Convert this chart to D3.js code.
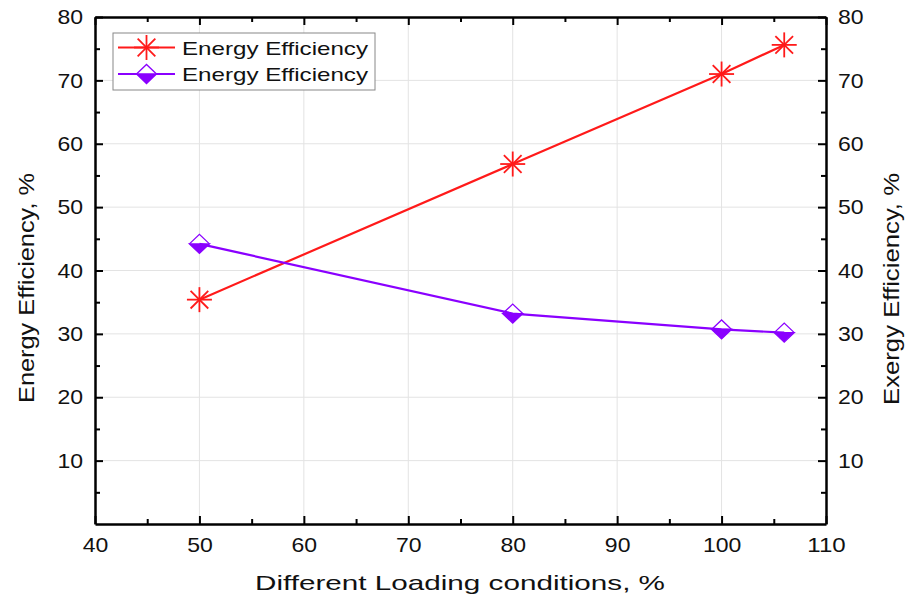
<!DOCTYPE html>
<html>
<head>
<meta charset="utf-8">
<script src="https://cdn.jsdelivr.net/npm/d3@7"></script>
<style>
  html, body { margin: 0; padding: 0; background: #fff; }
  svg { display: block; font-family: Arial, "Liberation Sans", sans-serif; }
</style>
</head>
<body>
<svg id="chart" width="909" height="599"></svg>
<script>
// Loading conditions (%) and efficiencies (%)
const loads = [50, 80, 100, 106];
const energyEff = [35.4, 56.8, 71.0, 75.6];
const exergyEff = [44.2, 33.2, 30.7, 30.2];
const seriesNames = ["Energy Efficiency", "Energy Efficiency"];
const xTicks = [40, 50, 60, 70, 80, 90, 100, 110];
const yTicks = [10, 20, 30, 40, 50, 60, 70, 80];
const xTitle = "Different Loading conditions, %";
const yTitleLeft = "Energy Efficiency, %";
const yTitleRight = "Exergy Efficiency, %";

const svg = d3.select("#chart");
const m = { left: 95, right: 826, top: 17, bottom: 524 };

const x = d3.scaleLinear().domain([40, 110]).range([m.left, m.right]);
const y = d3.scaleLinear().domain([0, 80]).range([m.bottom, m.top]);

const red = "#ff1a1a";
const purple = "#8a00ff";
const ink = "#111";

// grid
const grid = svg.append("g").attr("stroke", "#e3e3e3").attr("stroke-width", 1);
xTicks.slice(1, -1).forEach(v => grid.append("line")
  .attr("x1", x(v)).attr("x2", x(v)).attr("y1", m.top).attr("y2", m.bottom));
yTicks.slice(0, -1).forEach(v => grid.append("line")
  .attr("x1", m.left).attr("x2", m.right).attr("y1", y(v)).attr("y2", y(v)));

// axes with inward ticks
const xMinor = d3.range(45, 110, 10);
const yMinor = d3.range(5, 80, 10);

function styleAxis(g) {
  g.selectAll("path.domain").attr("stroke", "#000").attr("stroke-width", 2.5);
  g.selectAll(".tick line").attr("stroke", "#000").attr("stroke-width", 2);
  g.selectAll("text").attr("fill", ink).style("font-size", "21px")
    .style("font-family", "Arial, 'Liberation Sans', sans-serif")
    .attr("textLength", d => String(d).length * 12.8)
    .attr("lengthAdjust", "spacingAndGlyphs");
}
function minorStyle(g) {
  g.select(".domain").remove();
  g.selectAll("line").attr("stroke", "#000").attr("stroke-width", 2);
}

const axBottom = svg.append("g").attr("transform", `translate(0,${m.bottom})`)
  .call(d3.axisBottom(x).tickValues(xTicks).tickSize(-8).tickPadding(13).tickSizeOuter(0));
styleAxis(axBottom);
svg.append("g").attr("transform", `translate(0,${m.bottom})`)
  .call(d3.axisBottom(x).tickValues(xMinor).tickSize(-5).tickFormat("").tickSizeOuter(0))
  .call(minorStyle);

const axTop = svg.append("g").attr("transform", `translate(0,${m.top})`)
  .call(d3.axisTop(x).tickValues(xTicks).tickSize(-8).tickFormat("").tickSizeOuter(0));
styleAxis(axTop);
svg.append("g").attr("transform", `translate(0,${m.top})`)
  .call(d3.axisTop(x).tickValues(xMinor).tickSize(-5).tickFormat("").tickSizeOuter(0))
  .call(minorStyle);

const axLeft = svg.append("g").attr("transform", `translate(${m.left},0)`)
  .call(d3.axisLeft(y).tickValues(yTicks).tickSize(-8).tickPadding(12).tickSizeOuter(0));
styleAxis(axLeft);
svg.append("g").attr("transform", `translate(${m.left},0)`)
  .call(d3.axisLeft(y).tickValues(yMinor).tickSize(-5).tickFormat("").tickSizeOuter(0))
  .call(minorStyle);

const axRight = svg.append("g").attr("transform", `translate(${m.right},0)`)
  .call(d3.axisRight(y).tickValues(yTicks).tickSize(-8).tickPadding(12).tickSizeOuter(0));
styleAxis(axRight);
svg.append("g").attr("transform", `translate(${m.right},0)`)
  .call(d3.axisRight(y).tickValues(yMinor).tickSize(-5).tickFormat("").tickSizeOuter(0))
  .call(minorStyle);

// axis titles
svg.append("text").attr("x", 255).attr("y", 590)
  .attr("textLength", 410).attr("lengthAdjust", "spacingAndGlyphs")
  .style("font-size", "21px").attr("fill", ink).text(xTitle);
svg.append("text").attr("transform", "translate(34,403) rotate(-90)")
  .attr("textLength", 230).attr("lengthAdjust", "spacingAndGlyphs")
  .style("font-size", "22px").attr("fill", ink).text(yTitleLeft);
svg.append("text").attr("transform", "translate(899,405) rotate(-90)")
  .attr("textLength", 232).attr("lengthAdjust", "spacingAndGlyphs")
  .style("font-size", "22px").attr("fill", ink).text(yTitleRight);

// markers
function star(g, cx, cy, r) {
  const s = g.append("g").attr("stroke", red).attr("stroke-width", 1.8);
  for (let k = 0; k < 4; k++) {
    const a = k * Math.PI / 4;
    s.append("line")
      .attr("x1", cx - r * Math.cos(a)).attr("y1", cy - r * Math.sin(a))
      .attr("x2", cx + r * Math.cos(a)).attr("y2", cy + r * Math.sin(a));
  }
}
function diamond(g, cx, cy, w, h) {
  g.append("path")
    .attr("d", `M${cx - w},${cy} L${cx},${cy - h} L${cx + w},${cy}`)
    .attr("fill", "#fff").attr("stroke", purple).attr("stroke-width", 1.3);
  g.append("path")
    .attr("d", `M${cx - w},${cy} L${cx + w},${cy} L${cx},${cy + h} Z`)
    .attr("fill", purple).attr("stroke", purple).attr("stroke-width", 1.3);
}

const line = d3.line().x(d => x(d[0])).y(d => y(d[1]));
const redPts = loads.map((v, i) => [v, energyEff[i]]);
const purPts = loads.map((v, i) => [v, exergyEff[i]]);

svg.append("path").datum(redPts).attr("d", line)
  .attr("fill", "none").attr("stroke", red).attr("stroke-width", 2.2);
const markers = svg.append("g");
redPts.forEach(p => star(markers, x(p[0]), y(p[1]), 12.5));

svg.append("path").datum(purPts).attr("d", line)
  .attr("fill", "none").attr("stroke", purple).attr("stroke-width", 2.2);
purPts.forEach(p => diamond(markers, x(p[0]), y(p[1]), 10, 9.5));

// legend
const lg = svg.append("g");
lg.append("rect").attr("x", 113).attr("y", 33).attr("width", 262).attr("height", 57)
  .attr("fill", "#fff").attr("stroke", "#888").attr("stroke-width", 1);
const rows = [47.5, 74];
lg.append("line").attr("x1", 118).attr("x2", 175).attr("y1", rows[0]).attr("y2", rows[0])
  .attr("stroke", red).attr("stroke-width", 2.2);
star(lg, 146.5, rows[0], 12.5);
lg.append("line").attr("x1", 118).attr("x2", 175).attr("y1", rows[1]).attr("y2", rows[1])
  .attr("stroke", purple).attr("stroke-width", 2.2);
diamond(lg, 146.5, rows[1], 10, 9.5);
seriesNames.forEach((t, i) => lg.append("text").attr("x", 182).attr("y", rows[i] + 7)
  .attr("textLength", 186).attr("lengthAdjust", "spacingAndGlyphs")
  .style("font-size", "19px").attr("fill", ink).text(t));
</script>
</body>
</html>
